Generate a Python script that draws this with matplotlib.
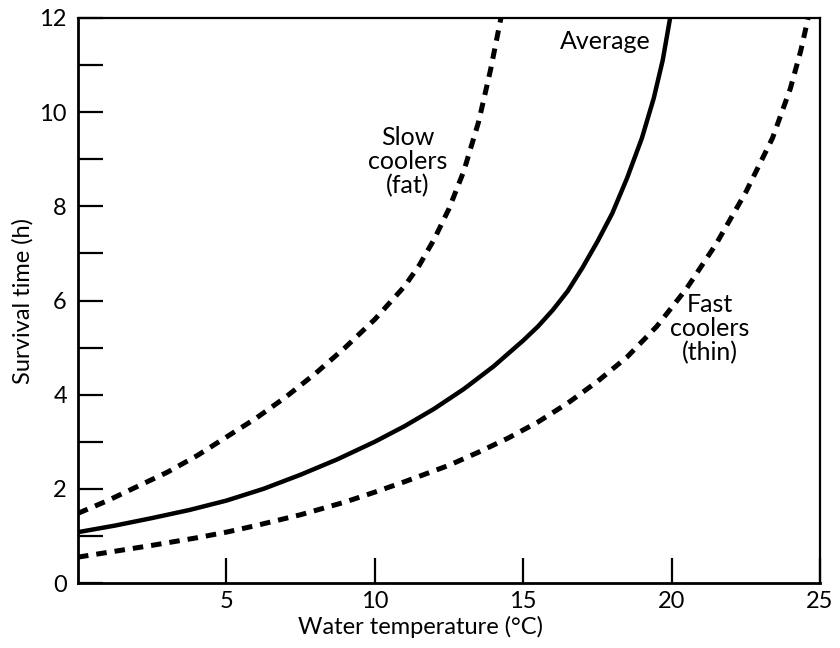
import matplotlib
matplotlib.use('Agg')
import matplotlib.pyplot as plt
import numpy as np

plt.rcParams['font.family'] = ['Lato', 'DejaVu Sans']

# Survival time (h) vs water temperature (deg C)
avg_temp = [0, 1.25, 2.5, 3.75, 5, 6.25, 7.5, 8.75, 10, 11, 12, 13, 14, 15, 15.5, 16,
            16.5, 17, 17.5, 18, 18.5, 19, 19.4, 19.7, 19.95]
avg_time = [1.08, 1.22, 1.38, 1.55, 1.75, 2.0, 2.3, 2.63, 3.0, 3.33, 3.7, 4.12, 4.6, 5.15,
            5.45, 5.8, 6.2, 6.7, 7.25, 7.85, 8.6, 9.45, 10.3, 11.1, 12]

slow_temp = [0, 1, 2, 3, 4, 5, 6, 7, 8, 9, 10, 11, 11.5, 12, 12.5, 13, 13.5, 13.9, 14.25]
slow_time = [1.48, 1.75, 2.05, 2.35, 2.7, 3.1, 3.5, 3.95, 4.45, 5.0, 5.6, 6.3, 6.75, 7.3,
             7.95, 8.75, 9.8, 10.9, 12]

fast_temp = [0, 1, 2.5, 4, 5, 6, 7.5, 9, 10, 11, 12.5, 13.5, 14.5, 15.5, 16.5, 17.5, 18.5,
             19.5, 20.5, 21.5, 22.5, 23.4, 24.0, 24.35, 24.6]
fast_time = [0.55, 0.65, 0.8, 0.96, 1.08, 1.22, 1.45, 1.72, 1.93, 2.15, 2.5, 2.78, 3.08,
             3.42, 3.82, 4.28, 4.8, 5.45, 6.25, 7.2, 8.3, 9.45, 10.5, 11.3, 12]

x_ticks = [5, 10, 15, 20, 25]
y_ticks = [0, 2, 4, 6, 8, 10, 12]

fig = plt.figure(figsize=(8.4, 6.48), dpi=100)
ax = fig.add_axes([78 / 840, 65 / 648, 742 / 840, 565 / 648])

ax.plot(avg_temp, avg_time, color='black', lw=3.2, solid_capstyle='butt')
ax.plot(slow_temp, slow_time, color='black', lw=3.6, linestyle=(0, (2.1, 1.6)))
ax.plot(fast_temp, fast_time, color='black', lw=3.6, linestyle=(0, (2.1, 1.6)))

ax.set_xlim(0, 25)
ax.set_ylim(0, 12)

# ticks point inward, every hour on y
ax.set_xticks(x_ticks)
ax.set_yticks(y_ticks)
ax.set_yticks(np.arange(1, 12, 2), minor=True)
ax.tick_params(axis='both', which='both', direction='in', length=18, width=1.6,
               labelsize=17, pad=6)
ax.tick_params(axis='y', pad=8)

for side in ['left', 'bottom']:
    ax.spines[side].set_linewidth(2.0)
for side in ['top', 'right']:
    ax.spines[side].set_linewidth(1.6)

ax.set_xlabel('Water temperature (°C)', fontsize=17)
ax.xaxis.set_label_coords(0.462, -0.058)
ax.set_ylabel('Survival time (h)', fontsize=17)
ax.yaxis.set_label_coords(-0.06, 0.5)

# curve labels
ax.text(17.75, 11.5, 'Average', fontsize=18, ha='center', va='center')
ax.text(11.1, 8.95, 'Slow\ncoolers\n(fat)', fontsize=18, ha='center', va='center',
        linespacing=1.05)
ax.text(21.3, 5.4, 'Fast\ncoolers\n(thin)', fontsize=18, ha='center', va='center',
        linespacing=1.05)

fig.savefig('out.png', dpi=100)
